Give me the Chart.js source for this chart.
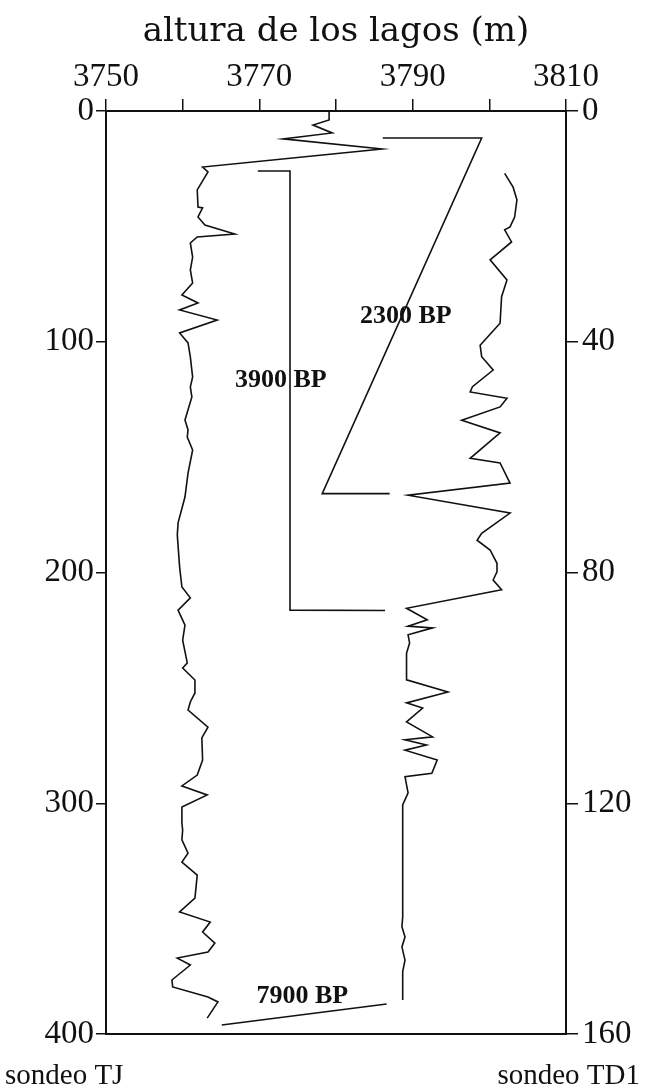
<!DOCTYPE html>
<html>
<head>
<meta charset="utf-8">
<script src="https://cdn.jsdelivr.net/npm/chart.js@4.4.1/dist/chart.umd.min.js"></script>
<style>
  html, body { margin: 0; padding: 0; background: #fff; }
  #wrap { width: 665px; height: 1090px; }
</style>
</head>
<body>
<div id="wrap"><canvas id="lagos" width="665" height="1090"></canvas></div>
<script>
// etiquetas de los ejes
var alturaTicks = [3750, 3770, 3790, 3810];
var tjTicks = [0, 100, 200, 300, 400];
var td1Ticks = [0, 40, 80, 120, 160];

// sondeo TJ (eje izquierdo)
var tjAltura = [3779.1, 3779.1, 3777.0, 3779.5, 3773.1, 3786.0, 3762.6, 3763.3, 3761.9, 3762.0,
    3762.6, 3762.0, 3762.9, 3766.8, 3761.9, 3761.0, 3761.3, 3761.0, 3761.3, 3759.9,
    3762.0, 3759.6, 3764.5, 3759.6, 3760.7, 3761.0, 3761.3, 3761.0, 3761.2, 3760.3,
    3760.7, 3760.6, 3761.3, 3760.7, 3760.3, 3759.4, 3759.3, 3759.6, 3759.9, 3761.0,
    3759.4, 3760.3, 3760.0, 3760.6, 3760.0, 3761.6, 3761.6, 3761.0, 3760.7, 3763.3,
    3762.5, 3762.6, 3761.9, 3759.9, 3763.2, 3759.9, 3759.9, 3760.0, 3759.9, 3760.7,
    3759.9, 3761.9, 3761.6, 3759.6, 3763.6, 3762.6, 3764.2, 3763.3, 3759.3, 3761.0,
    3758.6, 3758.7, 3763.3, 3764.6, 3763.2];
var tjProf = [0, 3.9, 6.1, 9.5, 12.1, 16.5, 24.3, 26.4, 34.2, 41.6,
    42.0, 45.9, 49.4, 53.3, 54.6, 57.2, 63.3, 68.9, 74.5, 79.7,
    83.2, 86.2, 90.6, 96.2, 100.5, 106.6, 115.3, 119.6, 123.9, 133.9,
    138.2, 141.3, 146.9, 156.9, 167.3, 178.5, 183.7, 197.6, 206.3, 211.0,
    216.3, 222.8, 229.3, 239.2, 241.4, 246.6, 252.2, 256.1, 259.6, 267.0,
    271.7, 281.3, 287.8, 292.5, 296.4, 301.6, 308.6, 311.6, 315.9, 321.6,
    325.5, 331.1, 341.1, 347.1, 351.5, 355.8, 360.6, 364.5, 367.1, 370.1,
    376.6, 379.6, 384.0, 386.1, 393.1];

// sondeo TD1 (eje derecho)
var td1Altura = [3802.0, 3803.1, 3803.6, 3803.3, 3802.7, 3802.0, 3802.9, 3800.1, 3802.3, 3801.6,
    3801.4, 3798.8, 3799.0, 3800.5, 3797.8, 3797.5, 3802.3, 3801.4, 3796.4, 3801.4,
    3797.5, 3801.4, 3802.7, 3789.4, 3802.7, 3799.0, 3798.4, 3800.1, 3801.0, 3801.0,
    3800.5, 3801.6, 3789.2, 3791.9, 3789.4, 3792.6, 3789.4, 3789.6, 3789.2, 3789.2,
    3794.6, 3789.2, 3791.3, 3789.2, 3792.6, 3789.0, 3791.8, 3789.0, 3793.2, 3792.5,
    3789.0, 3789.4, 3788.7, 3788.7, 3788.6, 3789.0, 3788.6, 3789.0, 3788.7, 3788.7];
var td1Prof = [10.8, 13.2, 15.4, 18.4, 20.1, 20.6, 22.7, 25.8, 29.3, 32.2,
    36.8, 40.6, 42.6, 44.9, 47.8, 48.7, 49.8, 51.3, 53.6, 55.8,
    60.2, 61.0, 64.5, 66.6, 69.7, 73.2, 74.4, 76.1, 78.4, 79.9,
    81.3, 83.0, 86.2, 88.2, 89.3, 89.6, 90.8, 92.2, 94.0, 98.6,
    100.7, 102.6, 103.5, 105.9, 108.5, 109.0, 109.9, 110.8, 112.5, 114.8,
    115.4, 118.2, 120.3, 139.7, 141.4, 143.2, 144.9, 147.2, 149.2, 154.1];

// lineas de correlacion (eje izquierdo)
var bp2300Altura = [3786.1, 3799.0, 3778.2, 3787.0];
var bp2300Prof = [11.7, 11.7, 165.8, 165.8];
var bp3900Altura = [3769.8, 3774.0, 3774.0, 3786.4];
var bp3900Prof = [26, 26, 216.3, 216.5];
var bp7900Altura = [3765.1, 3786.6];
var bp7900Prof = [396.1, 387.0];

var edades = ['2300 BP', '3900 BP', '7900 BP'];
var edadAltura = [3789.1, 3772.8, 3775.6];
var edadProf = [88.8, 116.6, 383.5];

var negro = '#111';
var serif = '"Liberation Serif", "Times New Roman", serif';

function pares(xs, ys) {
    return xs.map(function(x, i) { return { x: x, y: ys[i] }; });
}

function linea(xs, ys, eje) {
    return {
        data: pares(xs, ys),
        yAxisID: eje,
        xAxisID: 'x',
        showLine: true,
        borderColor: negro,
        borderWidth: 1.6,
        pointRadius: 0,
        tension: 0,
        fill: false
    };
}

var textos = {
    id: 'textos',
    afterDraw: function(chart) {
        var ctx = chart.ctx;
        var sx = chart.scales.x, sy = chart.scales.y;
        ctx.save();
        ctx.fillStyle = negro;
        ctx.font = 'bold 26px ' + serif;
        ctx.textAlign = 'center';
        ctx.textBaseline = 'middle';
        edades.forEach(function(t, i) {
            ctx.fillText(t, sx.getPixelForValue(edadAltura[i]), sy.getPixelForValue(edadProf[i]));
        });
        ctx.font = '29px ' + serif;
        ctx.textBaseline = 'alphabetic';
        ctx.textAlign = 'left';
        ctx.fillText('sondeo TJ', 5, 1084);
        ctx.textAlign = 'right';
        ctx.fillText('sondeo TD1', 640, 1084);
        ctx.restore();
    }
};

Chart.defaults.font.family = serif;
Chart.defaults.color = negro;

new Chart(document.getElementById('lagos').getContext('2d'), {
    type: 'scatter',
    data: {
        datasets: [
            linea(tjAltura, tjProf, 'y'),
            linea(td1Altura, td1Prof, 'y2'),
            linea(bp2300Altura, bp2300Prof, 'y'),
            linea(bp3900Altura, bp3900Prof, 'y'),
            linea(bp7900Altura, bp7900Prof, 'y')
        ]
    },
    options: {
        responsive: false,
        animation: false,
        layout: { padding: 0 },
        plugins: {
            legend: { display: false },
            tooltip: { enabled: false }
        },
        scales: {
            x: {
                type: 'linear',
                position: 'top',
                min: 3750,
                max: 3810,
                ticks: {
                    stepSize: 10,
                    autoSkip: false,
                    maxRotation: 0,
                    padding: 2,
                    font: { size: 33 },
                    callback: function(v) { return alturaTicks.indexOf(v) >= 0 ? String(v) : ''; }
                },
                grid: { drawOnChartArea: false, tickLength: 12, color: negro, lineWidth: 1.5 },
                border: { color: negro, width: 2 },
                title: {
                    display: true,
                    text: 'altura de los lagos (m)',
                    font: { family: '"DejaVu Serif", serif', size: 34 },
                    padding: { top: 12, bottom: 0 }
                },
                afterFit: function(s) { s.height = 111; }
            },
            xb: {
                type: 'linear',
                position: 'bottom',
                min: 3750,
                max: 3810,
                ticks: { display: false },
                grid: { drawOnChartArea: false, drawTicks: false },
                border: { color: negro, width: 2 },
                afterFit: function(s) { s.height = 56; }
            },
            y: {
                type: 'linear',
                position: 'left',
                reverse: true,
                min: 0,
                max: 400,
                afterBuildTicks: function(s) { s.ticks = tjTicks.map(function(v) { return { value: v }; }); },
                ticks: {
                    padding: 2,
                    font: { size: 33 },
                    callback: function(v) { return String(v); }
                },
                grid: { drawOnChartArea: false, tickLength: 10, color: negro, lineWidth: 1.5 },
                border: { color: negro, width: 2 },
                afterFit: function(s) { s.width = 106; }
            },
            y2: {
                type: 'linear',
                position: 'right',
                reverse: true,
                min: 0,
                max: 160,
                afterBuildTicks: function(s) { s.ticks = td1Ticks.map(function(v) { return { value: v }; }); },
                ticks: {
                    padding: 4,
                    font: { size: 33 },
                    callback: function(v) { return String(v); }
                },
                grid: { drawOnChartArea: false, tickLength: 12, color: negro, lineWidth: 1.5 },
                border: { color: negro, width: 2 },
                afterFit: function(s) { s.width = 99; }
            }
        }
    },
    plugins: [textos]
});
</script>
</body>
</html>
